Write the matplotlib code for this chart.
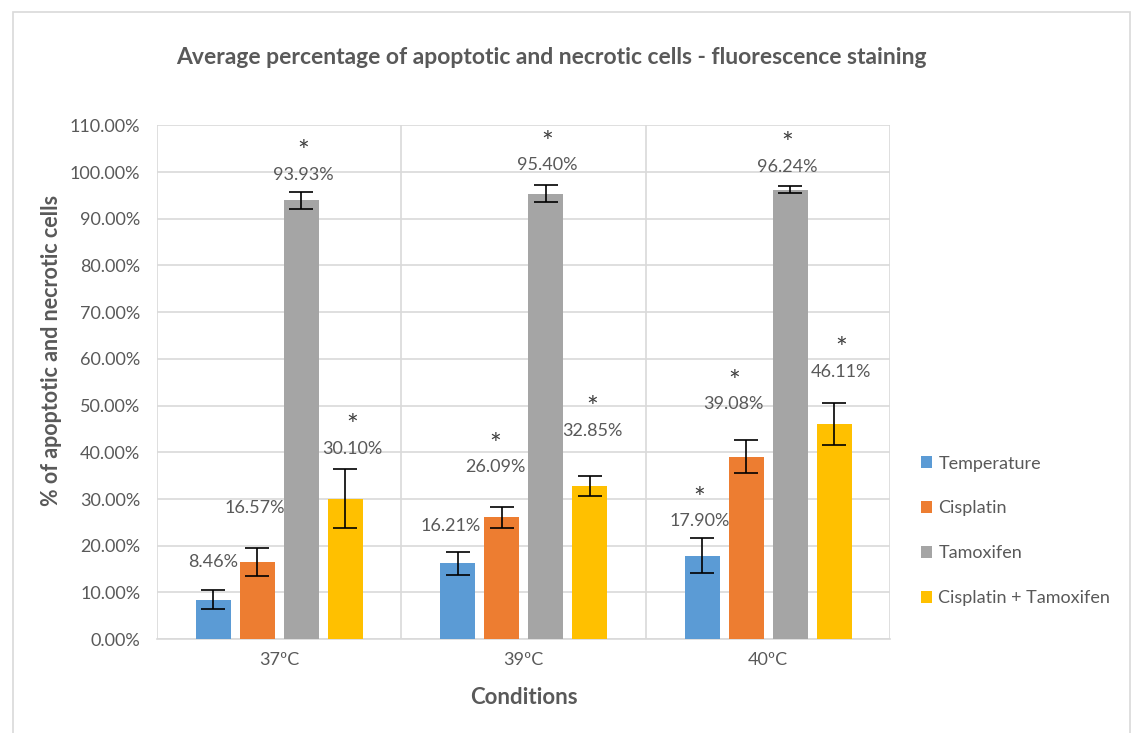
import numpy as np
import matplotlib.pyplot as plt
from matplotlib.patches import Rectangle
from matplotlib.ticker import FuncFormatter, MultipleLocator

plt.rcParams['font.family'] = ['Lato', 'DejaVu Sans']

# Données
conditions = ["37ºC", "39ºC", "40ºC"]
series = ["Temperature", "Cisplatin", "Tamoxifen", "Cisplatin + Tamoxifen"]
couleurs = ["#5B9BD5", "#ED7D31", "#A5A5A5", "#FFC000"]

temperature = [8.46, 16.21, 17.90]
cisplatin = [16.57, 26.09, 39.08]
tamoxifen = [93.93, 95.40, 96.24]
cis_tam = [30.10, 32.85, 46.11]

err_temperature = [2.1, 2.5, 3.7]
err_cisplatin = [3.0, 2.2, 3.6]
err_tamoxifen = [1.9, 1.9, 0.8]
err_cis_tam = [6.4, 2.1, 4.5]

# astérisque = différence significative
sig_temperature = [False, False, True]
sig_cisplatin = [False, True, True]
sig_tamoxifen = [True, True, True]
sig_cis_tam = [True, True, True]

# hauteur des étiquettes (déplacées à la main dans l'original)
lbl_temperature = [16.6, 24.3, 25.3]
lbl_cisplatin = [28.0, 36.8, 50.3]
lbl_tamoxifen = [99.4, 101.5, 101.1]
lbl_cis_tam = [40.8, 44.6, 57.2]
dx_lbl = [[0.0, -0.03, -0.01], [-0.01, -0.025, -0.05], [0.01, 0.005, -0.01], [0.03, 0.01, 0.03]]

valeurs = [temperature, cisplatin, tamoxifen, cis_tam]
erreurs = [err_temperature, err_cisplatin, err_tamoxifen, err_cis_tam]
signif = [sig_temperature, sig_cisplatin, sig_tamoxifen, sig_cis_tam]
etiquettes = [lbl_temperature, lbl_cisplatin, lbl_tamoxifen, lbl_cis_tam]

fig = plt.figure(figsize=(11.37, 7.33), dpi=100)
ax = fig.add_axes([0.138, 0.128, 0.645, 0.701])

# cadre gris clair autour du graphique
fig.patches.append(Rectangle((0.011, -0.01), 0.983, 0.994, transform=fig.transFigure,
                             fill=False, edgecolor="#D9D9D9", linewidth=1.2))

x = np.arange(len(conditions))
pas = 0.18
largeur = 0.143
gris_txt = "#595959"

for i, nom in enumerate(series):
    pos = x + (i - 1.5) * pas
    ax.bar(pos, valeurs[i], width=largeur, color=couleurs[i], label=nom, zorder=3)
    ax.errorbar(pos, valeurs[i], yerr=erreurs[i], fmt="none", ecolor="black",
                elinewidth=1.2, capsize=8.5, capthick=1.2, zorder=4)
    for j in range(len(conditions)):
        xl = pos[j] + dx_lbl[i][j]
        ax.text(xl, etiquettes[i][j], f"{valeurs[i][j]:.2f}%", ha="center", va="center",
                fontsize=13, color=gris_txt, zorder=5)
        if signif[i][j]:
            ax.text(xl, etiquettes[i][j] + 4.6, "*", ha="center", va="center",
                    fontsize=20, color="#404040", zorder=5)

ax.set_xlim(-0.5, 2.5)
ax.set_ylim(0, 110)
ax.yaxis.set_major_locator(MultipleLocator(10))
ax.yaxis.set_major_formatter(FuncFormatter(lambda v, p: f"{v:.2f}%"))
ax.set_xticks(x)
ax.set_xticklabels(conditions)
ax.tick_params(axis="both", length=0, labelsize=13, labelcolor=gris_txt)
ax.tick_params(axis="y", pad=12)
ax.tick_params(axis="x", pad=9)

# grille horizontale + séparateurs verticaux entre catégories
ax.grid(axis="y", color="#D9D9D9", linewidth=1.2, zorder=0)
for b in [-0.5, 0.5, 1.5, 2.5]:
    ax.axvline(b, color="#D9D9D9", linewidth=1.2, zorder=0)
for s in ["top", "right", "left"]:
    ax.spines[s].set_visible(False)
ax.spines["bottom"].set_color("#D9D9D9")
ax.spines["bottom"].set_linewidth(1.2)

ax.set_xlabel("Conditions", fontsize=16, fontweight="bold", color=gris_txt, labelpad=14)
ax.set_ylabel("% of apoptotic and necrotic cells", fontsize=15.5, fontweight="bold",
              color=gris_txt)
ax.yaxis.set_label_coords(-0.13, 0.562)
fig.text(0.4846, 0.921, "Average percentage of apoptotic and necrotic cells - fluorescence staining",
         ha="center", va="center", fontsize=16.5, fontweight="bold", color=gris_txt)

ax.legend(loc="upper left", bbox_to_anchor=(1.02, 0.389), frameon=False, fontsize=13,
          labelcolor=gris_txt, labelspacing=1.6, handlelength=0.6, handleheight=0.6,
          handletextpad=0.35)

fig.savefig("out.png", dpi=100)
